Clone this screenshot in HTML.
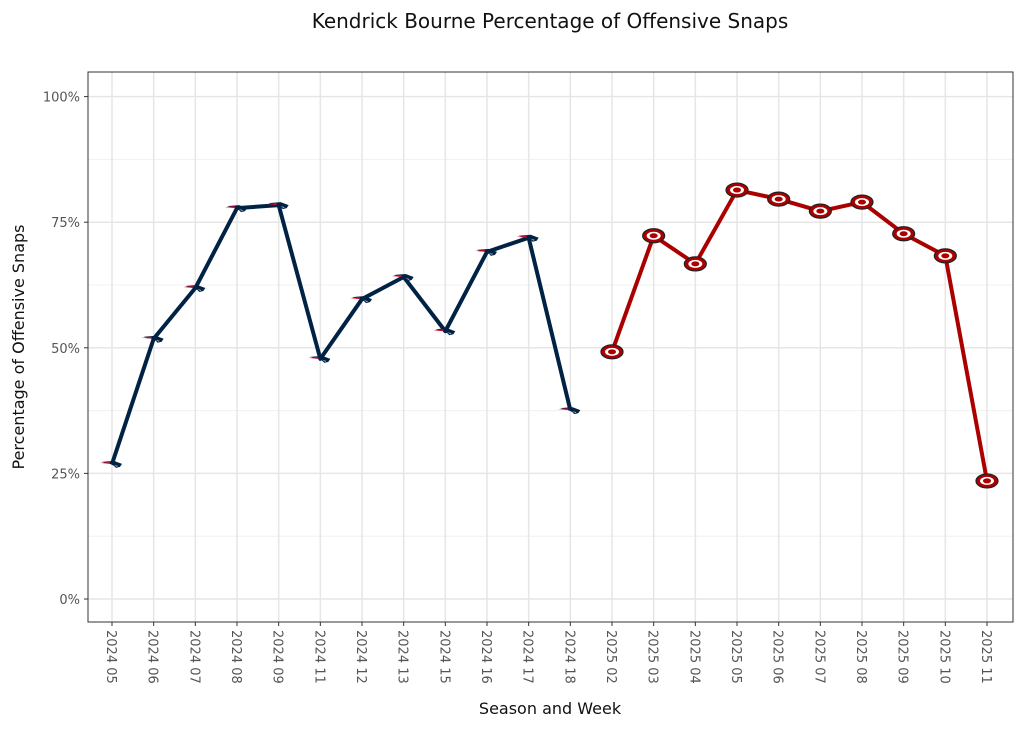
<!DOCTYPE html>
<html><head><meta charset="utf-8"><style>
body{margin:0;background:#fff;font-family:"Liberation Sans","DejaVu Sans",sans-serif;}
svg text{font-family:"DejaVu Sans","Liberation Sans",sans-serif;}
</style></head><body>
<svg id="chart" width="1024" height="731" xmlns="http://www.w3.org/2000/svg">
<text x="550" y="28" text-anchor="middle" font-size="20" fill="#111">Kendrick Bourne Percentage of Offensive Snaps</text>
<rect x="88" y="72" width="925" height="550" fill="#fff"/>
<g id="grid"></g>
<g id="lines"></g>
<g id="marks"></g>
<rect x="88" y="72" width="925" height="550" fill="none" stroke="#333" stroke-width="1"/>
<g id="axes"></g>
<text x="550" y="714" text-anchor="middle" font-size="16" fill="#111">Season and Week</text>
<text transform="translate(24,347) rotate(-90)" text-anchor="middle" font-size="16" fill="#111">Percentage of Offensive Snaps</text>
</svg>
<script>
const categories=["2024 05","2024 06","2024 07","2024 08","2024 09","2024 11","2024 12","2024 13","2024 15","2024 16","2024 17","2024 18","2025 02","2025 03","2025 04","2025 05","2025 06","2025 07","2025 08","2025 09","2025 10","2025 11"];
const patriotsValues=[26.9,51.8,61.9,77.8,78.4,47.8,59.7,64.1,53.3,69.1,71.9,37.6];
const ninersValues=[49.2,72.3,66.7,81.4,79.6,77.2,79.0,72.7,68.3,23.5];
const yTicks=[0,25,50,75,100];
const yTickLabels=["0%","25%","50%","75%","100%"];
const NS="http://www.w3.org/2000/svg";
function x(i){return 112+i*(875/21);}
function y(v){return 599-v*5.024;}
function mk(tag,attrs,parent){const e=document.createElementNS(NS,tag);for(const k in attrs)e.setAttribute(k,attrs[k]);parent.appendChild(e);return e;}
const grid=document.getElementById('grid'),axes=document.getElementById('axes'),lines=document.getElementById('lines'),marks=document.getElementById('marks');
for(let k=0;k<yTicks.length-1;k++){const l=mk('line',{x1:88,x2:1013,y1:y((yTicks[k]+yTicks[k+1])/2),y2:y((yTicks[k]+yTicks[k+1])/2),stroke:'#f0f0f0','stroke-width':1},grid);
}
yTicks.forEach((t,k)=>{const l=mk('line',{x1:88,x2:1013,y1:y(t),y2:y(t),stroke:'#e6e6e6','stroke-width':1.5},grid);

mk('line',{x1:84,x2:88,y1:y(t),y2:y(t),stroke:'#333'},axes);
const tx=mk('text',{x:80,y:y(t)+5,'text-anchor':'end','font-size':13,fill:'#555'},axes);tx.textContent=yTickLabels[k];
});
categories.forEach((c,i)=>{const l=mk('line',{x1:x(i),x2:x(i),y1:72,y2:622,stroke:'#e6e6e6','stroke-width':1.5},grid);

mk('line',{x1:x(i),x2:x(i),y1:622,y2:626,stroke:'#333'},axes);
const tx=mk('text',{transform:`translate(${x(i)-5},630) rotate(90)`,'font-size':13,fill:'#555'},axes);tx.textContent=c;
});
const p1=mk('polyline',{points:patriotsValues.map((v,i)=>x(i)+','+y(v)).join(' '),fill:'none',stroke:'#002244','stroke-width':4,'stroke-linejoin':'round'},lines);

const off=patriotsValues.length;
const p2=mk('polyline',{points:ninersValues.map((v,i)=>x(i+off)+','+y(v)).join(' '),fill:'none',stroke:'#AA0000','stroke-width':4,'stroke-linejoin':'round'},lines);

patriotsValues.forEach((v,i)=>{const g=mk('g',{transform:`translate(${x(i)},${y(v)})`},marks);

mk('polygon',{points:'-10,-2 2,-3 10,0 8,3 4,4 2,2 -2,0',fill:'#002244'},g);
mk('polygon',{points:'-12,-1 -2,-2 -2,0',fill:'#C60C30'},g);
mk('polygon',{points:'2,1 6,2 5,3',fill:'#B0B7BC'},g);});
ninersValues.forEach((v,i)=>{const g=mk('g',{transform:`translate(${x(i+off)},${y(v)})`},marks);

mk('ellipse',{cx:0,cy:0,rx:11,ry:7,fill:'#AA0000',stroke:'#222','stroke-width':1.2},g);
mk('ellipse',{cx:0,cy:0,rx:7,ry:4,fill:'#fff'},g);
mk('ellipse',{cx:0,cy:0,rx:4,ry:2.5,fill:'#AA0000'},g);});
</script>
</body></html>
